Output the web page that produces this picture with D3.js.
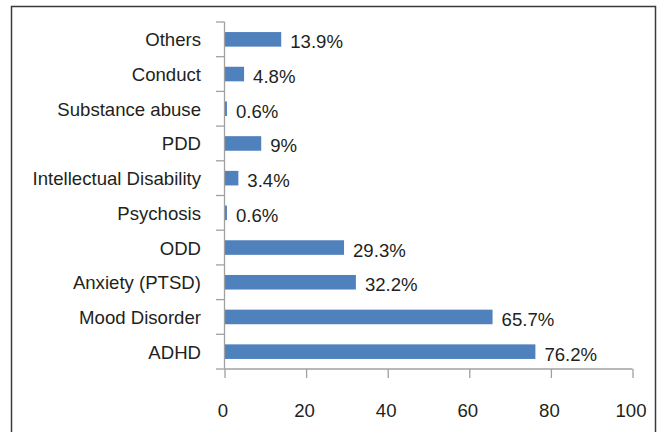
<!DOCTYPE html>
<html>
<head>
<meta charset="utf-8">
<script src="https://cdn.jsdelivr.net/npm/d3@7"></script>
<style>
html,body{margin:0;padding:0;background:#fff;}
svg{display:block;}
text{font-family:"Liberation Sans",Arial,Helvetica,sans-serif;fill:#231f20;}
</style>
</head>
<body>
<svg id="chart" width="657" height="432"></svg>
<script>
const categories = ["Others","Conduct","Substance abuse","PDD","Intellectual Disability","Psychosis","ODD","Anxiety (PTSD)","Mood Disorder","ADHD"];
const values = [13.9, 4.8, 0.6, 9, 3.4, 0.6, 29.3, 32.2, 65.7, 76.2];
const valueLabels = ["13.9%","4.8%","0.6%","9%","3.4%","0.6%","29.3%","32.2%","65.7%","76.2%"];
const xTicks = [0, 20, 40, 60, 80, 100];

const svg = d3.select("#chart");
const fontSize = 18.6;
const axisColor = "#a0a0a0";

// frame
svg.append("rect").attr("x", 11.5).attr("y", 6.5).attr("width", 644).attr("height", 440)
  .attr("fill", "none").attr("stroke", "#3a3a3a").attr("stroke-width", 1.5);

const x = d3.scaleLinear().domain([0, 100]).range([224.5, 632.5]);
const y = d3.scaleBand().domain(categories).range([22, 369]).paddingInner(0.58).paddingOuter(0.29);

// bars
svg.append("g").selectAll("rect").data(categories).join("rect")
  .attr("x", x(0))
  .attr("y", (d) => y(d))
  .attr("width", (d, i) => x(values[i]) - x(0))
  .attr("height", y.bandwidth())
  .attr("fill", "#4F81BD");

// value labels
svg.append("g").selectAll("text").data(categories).join("text")
  .attr("x", (d, i) => x(values[i]) + 9)
  .attr("y", (d) => y(d) + y.bandwidth() / 2 + 9)
  .attr("font-size", fontSize)
  .text((d, i) => valueLabels[i]);

// y axis line + boundary ticks
const yAxisG = svg.append("g").attr("stroke", axisColor).attr("stroke-width", 1.3);
yAxisG.append("line").attr("x1", x(0)).attr("x2", x(0)).attr("y1", 22).attr("y2", 369);
const boundaries = d3.range(categories.length + 1).map(i => 22 + i * (347 / categories.length));
yAxisG.selectAll("line.tk").data(boundaries).join("line").attr("class", "tk")
  .attr("x1", 216).attr("x2", x(0)).attr("y1", d => d).attr("y2", d => d);

// category labels
svg.append("g").selectAll("text").data(categories).join("text")
  .attr("x", 201)
  .attr("y", (d) => y(d) + y.bandwidth() / 2 + 7)
  .attr("text-anchor", "end")
  .attr("font-size", fontSize)
  .text(d => d);

// x axis
const xAxis = d3.axisBottom(x).tickValues(xTicks).tickSize(9).tickPadding(26).tickFormat(d3.format("d"));
const xg = svg.append("g").attr("transform", "translate(0,369)").call(xAxis);
xg.select(".domain").attr("stroke", axisColor).attr("stroke-width", 1.3).attr("d", `M${x(0)},0H${x(100)}`);
xg.selectAll(".tick line").attr("stroke", axisColor).attr("stroke-width", 1.3);
xg.selectAll(".tick text").attr("font-size", fontSize).attr("font-family", "Liberation Sans, Arial, sans-serif")
  .attr("fill", "#231f20").attr("dx", -2);
</script>
</body>
</html>
